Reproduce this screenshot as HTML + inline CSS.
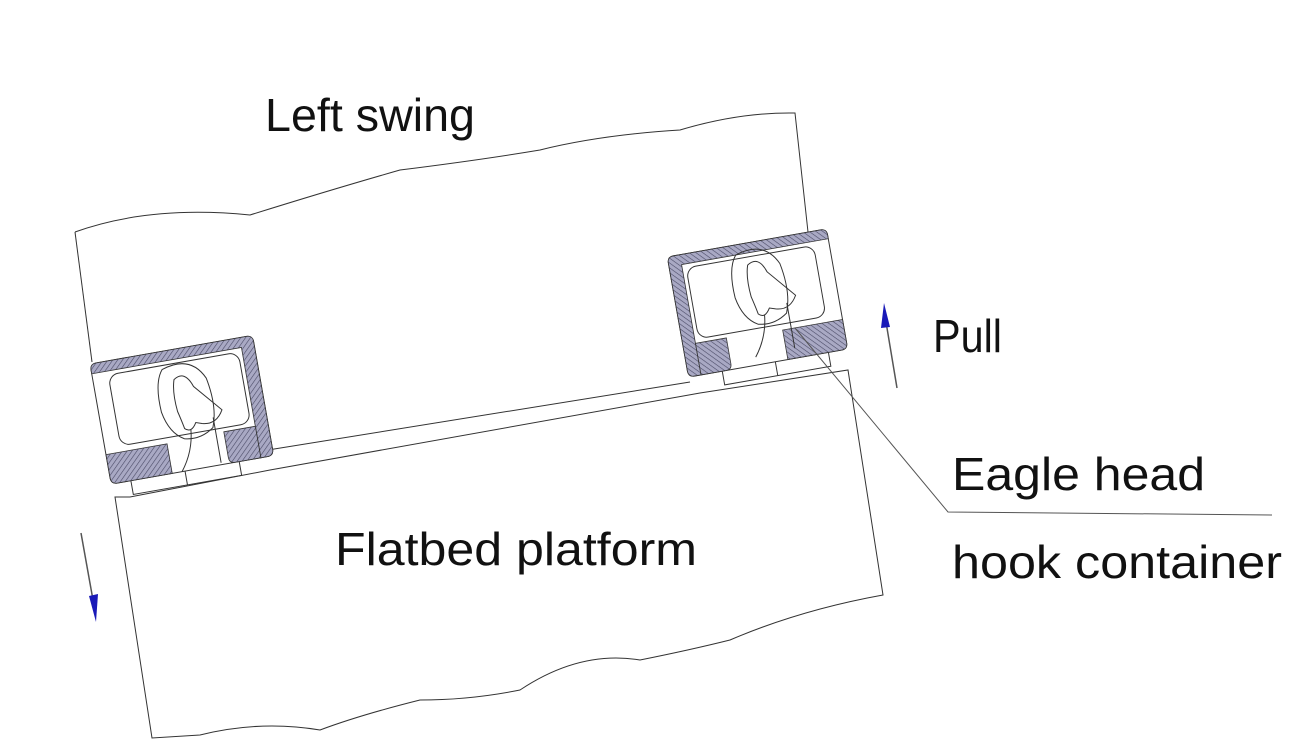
<!DOCTYPE html>
<html><head><meta charset="utf-8"><style>
html,body{margin:0;padding:0;background:#fff}
svg{display:block}
text{font-family:"Liberation Sans",sans-serif;fill:#111}
</style></head><body>
<svg width="1316" height="756" viewBox="0 0 1316 756" xmlns="http://www.w3.org/2000/svg">
<defs>
<pattern id="h" width="4" height="4" patternUnits="userSpaceOnUse" patternTransform="rotate(45)">
<rect width="4" height="4" fill="#a9a9c4"/>
<line x1="0" y1="0" x2="0" y2="4" stroke="#4a4a66" stroke-width="1.2"/>
</pattern>
<g id="frame">
<rect x="0" y="0" width="165" height="122" rx="6" fill="#fff" stroke="#333" stroke-width="1"/>
<path d="M0 10 V6 Q0 0 6 0 H159 Q165 0 165 6 V116 Q165 122 159 122 H152 V10 Z" fill="url(#h)" stroke="#333" stroke-width="0.8"/>
<path d="M0 92 H62 V122 H6 Q0 122 0 116 Z" fill="url(#h)" stroke="#333" stroke-width="0.8"/>
<path d="M120 90 H152 V122 H126 Q120 122 120 116 Z" fill="url(#h)" stroke="#333" stroke-width="0.8"/>
<rect x="16" y="14" width="132" height="72" rx="10" fill="none" stroke="#333" stroke-width="1"/>
<path d="M20 122 V136 H130 V122 M75 122 V136" fill="none" stroke="#333" stroke-width="1"/>
</g>
<g id="hook">
<path d="M70 18 Q100 8 112 34 Q118 64 110 84 Q96 94 80 90 Q66 82 62 60 Q60 30 70 18 Z" fill="none" stroke="#333" stroke-width="1"/>
<path d="M80 30 Q92 22 98 40 L122 68 Q114 82 100 78 L94 76 Q88 86 82 80 Q80 70 78 62 Q76 42 80 30 Z" fill="none" stroke="#333" stroke-width="1"/>
<path d="M88 82 Q86 104 72 122 M112 74 V120" fill="none" stroke="#333" stroke-width="1"/>
</g>
</defs>
<!-- upper body -->
<path d="M75 232 Q150 205 250 215 Q330 190 400 170 Q480 160 540 150 Q600 135 680 130 Q740 112 795 113 L808 232" fill="none" stroke="#333" stroke-width="1"/>
<line x1="75" y1="232" x2="92" y2="362" stroke="#333"/>
<line x1="268" y1="450" x2="690" y2="382" stroke="#333"/>
<!-- flatbed -->
<path d="M115 497 L130 497 L270 470 L700 393 L848 370 L883 595 Q800 610 730 640 Q690 650 640 660 Q580 650 520 690 Q470 700 420 700 Q360 715 320 730 Q260 720 200 735 L152 738 Z" fill="none" stroke="#333" stroke-width="1"/>
<g transform="translate(90,364) rotate(-10)"><use href="#frame"/><use href="#hook"/></g>
<g transform="translate(667,257) rotate(-10)">
<g transform="translate(162,0) scale(-0.98,1)"><use href="#frame"/></g>
<g transform="translate(-2,-8)"><use href="#hook"/></g>
</g>
<!-- leader -->
<polyline points="795,328 948,512 1272,515" fill="none" stroke="#555" stroke-width="1"/>
<!-- arrows -->
<line x1="81" y1="533" x2="93" y2="600" stroke="#555" stroke-width="1.5"/>
<polygon points="89,596 98,594 96,622" fill="#1a1ab8"/>
<line x1="897" y1="388" x2="886" y2="322" stroke="#555" stroke-width="1.5"/>
<polygon points="884,303 881,328 890,327" fill="#1a1ab8"/>
<text x="265" y="131" font-size="46" textLength="210" lengthAdjust="spacingAndGlyphs">Left swing</text>
<text x="933" y="352" font-size="46" textLength="69" lengthAdjust="spacingAndGlyphs">Pull</text>
<text x="952" y="490" font-size="46" textLength="253" lengthAdjust="spacingAndGlyphs">Eagle head</text>
<text x="952" y="578" font-size="46" textLength="330" lengthAdjust="spacingAndGlyphs">hook container</text>
<text x="335" y="565" font-size="46" textLength="362" lengthAdjust="spacingAndGlyphs">Flatbed platform</text>
</svg>
</body></html>
